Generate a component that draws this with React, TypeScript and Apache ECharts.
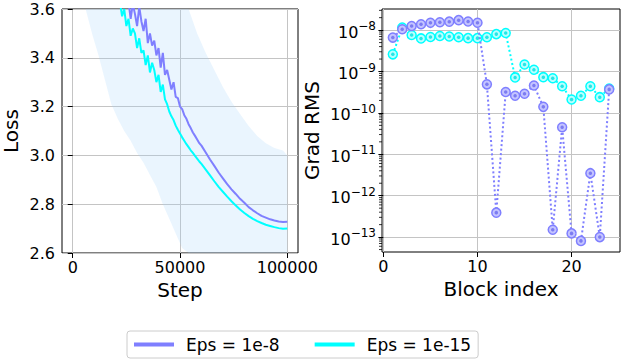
import React, { useEffect, useRef } from 'react';
import * as echarts from 'echarts';

const FONT = 'DejaVu Sans';
const PURPLE = '#7f7fff';
const CYAN = '#00ffff';

// ---- Left panel: training loss ----
const lossSteps = [
  20000, 21000, 22000, 23000, 24000, 25000, 26000, 27000, 28000, 29000,
  30000, 31000, 32000, 33000, 34000, 35000, 36000, 37000, 38000, 39000,
  40000, 41000, 42000, 43000, 44000, 45000, 46000, 47000, 48000, 49000,
  50000, 51000, 52000, 53000, 54000, 55000, 56000, 57000, 58000, 59000,
  60000, 62000, 64000, 66000, 68000, 70000, 72000, 74000, 76000, 78000,
  80000, 82000, 84000, 86000, 88000, 90000, 92000, 94000, 96000, 98000, 100000,
];
const lossEps8 = [
  3.78, 3.73, 3.72, 3.66, 3.67, 3.61, 3.63, 3.56, 3.62, 3.58,
  3.53, 3.61, 3.55, 3.51, 3.56, 3.46, 3.50, 3.45, 3.47, 3.41,
  3.44, 3.36, 3.42, 3.33, 3.35, 3.31, 3.27, 3.30, 3.24, 3.235,
  3.20, 3.19, 3.165, 3.15, 3.128, 3.112, 3.094, 3.08, 3.065, 3.05,
  3.04, 3.012, 2.983, 2.957, 2.93, 2.906, 2.882, 2.861, 2.842, 2.822,
  2.806, 2.788, 2.775, 2.763, 2.752, 2.745, 2.738, 2.733, 2.729, 2.727, 2.728,
];
const lossEps15 = [
  3.70, 3.65, 3.63, 3.57, 3.60, 3.53, 3.56, 3.49, 3.52, 3.50,
  3.44, 3.48, 3.42, 3.43, 3.37, 3.41, 3.34, 3.38, 3.35, 3.30,
  3.33, 3.26, 3.29, 3.23, 3.21, 3.18, 3.16, 3.145, 3.122, 3.105,
  3.09, 3.074, 3.06, 3.046, 3.034, 3.021, 3.01, 2.998, 2.987, 2.975,
  2.965, 2.942, 2.918, 2.894, 2.871, 2.851, 2.831, 2.812, 2.795, 2.778,
  2.764, 2.751, 2.740, 2.731, 2.723, 2.716, 2.711, 2.706, 2.702, 2.699, 2.700,
];
// faint raw-loss envelope
const bandSteps = [
  4000, 6000, 9000, 12000, 15000, 18000, 21000, 24000, 27000, 30000,
  33000, 36000, 39000, 42000, 45000, 48000, 51000, 54000, 58000, 62000,
  66000, 70000, 74000, 78000, 82000, 86000, 90000, 94000, 98000, 100000,
];
const bandLow = [
  3.75, 3.60, 3.50, 3.41, 3.31, 3.21, 3.15, 3.10, 3.06, 3.01,
  2.97, 2.92, 2.87, 2.80, 2.74, 2.68, 2.62, 2.56, 2.50, 2.50,
  2.50, 2.50, 2.50, 2.50, 2.50, 2.50, 2.50, 2.50, 2.50, 2.50,
];
const bandHigh = [
  3.90, 3.90, 3.90, 3.90, 3.90, 3.90, 3.90, 3.90, 3.90, 3.90,
  3.90, 3.90, 3.90, 3.90, 3.90, 3.90, 3.90, 3.62, 3.50, 3.42,
  3.35, 3.28, 3.22, 3.17, 3.12, 3.08, 3.05, 3.03, 3.02, 3.00,
];
const stepTicks = [0, 50000, 100000];

// ---- Right panel: gradient RMS per block ----
const blockIndex = [1, 2, 3, 4, 5, 6, 7, 8, 9, 10, 11, 12, 13, 14, 15, 16, 17, 18, 19, 20, 21, 22, 23, 24];
const gradEps8 = [
  6.6e-9, 1.05e-8, 1.26e-8, 1.39e-8, 1.5e-8, 1.55e-8, 1.6e-8, 1.74e-8, 1.62e-8, 1.5e-8,
  4.9e-10, 3.9e-13, 3.2e-10, 2.6e-10, 2.9e-10, 4.6e-10, 1.4e-10, 1.5e-13, 4.5e-11, 1.23e-13,
  8.1e-14, 3.5e-12, 1.0e-13, 3.7e-10,
];
const gradEps15 = [
  2.6e-9, 1.15e-8, 7.6e-9, 6.3e-9, 6.8e-9, 7.2e-9, 7.0e-9, 6.7e-9, 6.4e-9, 6.4e-9,
  6.7e-9, 8.0e-9, 8.5e-9, 7.2e-10, 1.48e-9, 1.1e-9, 7.3e-10, 6.9e-10, 4.4e-10, 2.1e-10,
  2.6e-10, 4.4e-10, 2.4e-10, 3.9e-10,
];
const blockTicks = [0, 10, 20];
const gradDecades = [-13, -12, -11, -10, -9, -8];

const LOSS_MIN = 2.6;
const LOSS_MAX = 3.6;
const LOG_MIN = -13.36;
const LOG_MAX = -7.49;
const BX_MIN = -0.15;
const BX_MAX = 25.15;

export default function App() {
  const ref = useRef<HTMLDivElement>(null);
  useEffect(() => {
    if (!ref.current) return;
    const chart = echarts.init(ref.current, undefined, { renderer: 'svg' });

    const minorLog: number[][] = [];
    for (let n = -14; n <= -8; n++) {
      for (let k = 2; k <= 9; k++) {
        const v = n + Math.log10(k);
        if (v > LOG_MIN && v < LOG_MAX) minorLog.push([BX_MIN, v]);
      }
    }
    const clampLoss = (v: number) => Math.min(LOSS_MAX, Math.max(LOSS_MIN, v));

    const tickLabel = { fontSize: 16, color: '#000', fontFamily: FONT };
    const nameStyle = { fontSize: 20, color: '#000', fontFamily: FONT };
    const split = { show: true, lineStyle: { color: '#c4c4c4', width: 1 } };
    const tick = (vals: number[]) => ({ show: true, length: 5, inside: false, customValues: vals, lineStyle: { color: '#000', width: 1 } });

    const option: any = {
      animation: false,
      textStyle: { fontFamily: FONT },
      grid: [
        { left: 59, top: 9, width: 239, height: 244, show: true, borderColor: '#000', borderWidth: 1, backgroundColor: 'transparent' },
        { left: 382, top: 9, width: 238, height: 243, show: true, borderColor: '#000', borderWidth: 1, backgroundColor: 'transparent' },
      ],
      xAxis: [
        {
          type: 'value', gridIndex: 0, min: -5000, max: 105000, splitNumber: 2,
          axisLine: { show: false }, axisTick: tick(stepTicks),
          axisLabel: { ...tickLabel, customValues: stepTicks, margin: 6, formatter: (v: number) => String(v) },
          splitLine: split,
          name: 'Step', nameLocation: 'middle', nameGap: 26, nameTextStyle: nameStyle,
        },
        {
          type: 'value', gridIndex: 1, min: BX_MIN, max: BX_MAX, splitNumber: 3,
          axisLine: { show: false }, axisTick: tick(blockTicks),
          axisLabel: { ...tickLabel, customValues: blockTicks, margin: 6, formatter: (v: number) => String(v) },
          splitLine: split,
          name: 'Block index', nameLocation: 'middle', nameGap: 26, nameTextStyle: nameStyle,
        },
      ],
      yAxis: [
        {
          type: 'value', gridIndex: 0, min: LOSS_MIN, max: LOSS_MAX, interval: 0.2,
          axisLine: { show: false }, axisTick: { show: true, length: 5, lineStyle: { color: '#000' } },
          axisLabel: { ...tickLabel, margin: 7, formatter: (v: number) => v.toFixed(1) },
          splitLine: split,
          name: 'Loss', nameLocation: 'middle', nameGap: 41, nameTextStyle: nameStyle,
        },
        {
          type: 'value', gridIndex: 1, min: LOG_MIN, max: LOG_MAX, splitNumber: 6,
          axisLine: { show: false }, axisTick: tick(gradDecades),
          axisLabel: {
            customValues: gradDecades, margin: 6,
            formatter: (v: number) => `{b|10}{s|\u2212${Math.abs(Math.round(v))}}`,
            rich: {
              b: { fontSize: 16, fontFamily: FONT, color: '#000', lineHeight: 20, verticalAlign: 'bottom' },
              s: { fontSize: 12, fontFamily: FONT, color: '#000', lineHeight: 11, verticalAlign: 'top' },
            },
          },
          splitLine: split,
          name: 'Grad RMS', nameLocation: 'middle', nameGap: 60, nameTextStyle: nameStyle,
        },
      ],
      legend: {
        left: 127, top: 331, orient: 'horizontal', padding: [5, 7, 5, 5], itemGap: 33,
        itemWidth: 40, itemHeight: 4, borderColor: '#cccccc', borderWidth: 1, borderRadius: 3,
        selectedMode: false,
        lineStyle: { width: 4, type: 'solid' },
        textStyle: { fontSize: 17, color: '#000', fontFamily: FONT, padding: [0, 0, 0, 7] },
        data: ['Eps = 1e-8', 'Eps = 1e-15'],
      },
      series: [
        {
          name: 'Eps = 1e-8', type: 'line', xAxisIndex: 0, yAxisIndex: 0,
          data: lossSteps.map((s, i) => [s, lossEps8[i]]),
          symbol: 'none', lineStyle: { color: PURPLE, width: 2 }, itemStyle: { color: PURPLE }, z: 3,
        },
        {
          name: 'Eps = 1e-15', type: 'line', xAxisIndex: 0, yAxisIndex: 0,
          data: lossSteps.map((s, i) => [s, lossEps15[i]]),
          symbol: 'none', lineStyle: { color: CYAN, width: 2 }, itemStyle: { color: CYAN }, z: 4,
        },
        {
          name: 'rawBand', type: 'custom', xAxisIndex: 0, yAxisIndex: 0, silent: true, z: 1,
          data: [[bandSteps[0], bandLow[0]]],
          renderItem: (_p: any, api: any) => {
            const pts: number[][] = [];
            for (let i = 0; i < bandSteps.length; i++) pts.push(api.coord([bandSteps[i], clampLoss(bandHigh[i])]));
            for (let i = bandSteps.length - 1; i >= 0; i--) pts.push(api.coord([bandSteps[i], clampLoss(bandLow[i])]));
            return { type: 'polygon', shape: { points: pts }, style: { fill: 'rgba(160,210,250,0.22)' } };
          },
        },
        {
          name: 'Eps = 1e-15', type: 'line', xAxisIndex: 1, yAxisIndex: 1,
          data: blockIndex.map((b, i) => [b, Math.log10(gradEps15[i])]),
          symbol: 'circle', symbolSize: 9, showAllSymbol: true,
          lineStyle: { color: CYAN, width: 2, type: [2, 2.5] },
          itemStyle: { color: '#b8ffff', borderColor: CYAN, borderWidth: 1.5 }, z: 3,
        },
        {
          name: 'dot15', type: 'scatter', xAxisIndex: 1, yAxisIndex: 1,
          data: blockIndex.map((b, i) => [b, Math.log10(gradEps15[i])]),
          symbol: 'circle', symbolSize: 3.5, itemStyle: { color: '#00e0e0' }, z: 4, silent: true,
        },
        {
          name: 'Eps = 1e-8', type: 'line', xAxisIndex: 1, yAxisIndex: 1,
          data: blockIndex.map((b, i) => [b, Math.log10(gradEps8[i])]),
          symbol: 'circle', symbolSize: 9, showAllSymbol: true,
          lineStyle: { color: PURPLE, width: 2, type: [2, 2.5] },
          itemStyle: { color: '#c4c4ff', borderColor: PURPLE, borderWidth: 1.5 }, z: 5,
        },
        {
          name: 'dot8', type: 'scatter', xAxisIndex: 1, yAxisIndex: 1,
          data: blockIndex.map((b, i) => [b, Math.log10(gradEps8[i])]),
          symbol: 'circle', symbolSize: 3.5, itemStyle: { color: '#6a6aee' }, z: 6, silent: true,
        },
        {
          name: 'minorTicks', type: 'custom', xAxisIndex: 1, yAxisIndex: 1, silent: true, clip: false,
          data: minorLog,
          renderItem: (_p: any, api: any) => {
            const pt = api.coord([api.value(0), api.value(1)]);
            return {
              type: 'line',
              shape: { x1: pt[0] - 3, y1: pt[1], x2: pt[0], y2: pt[1] },
              style: { stroke: '#000', lineWidth: 0.8 },
            };
          },
          z: 2,
        },
      ],
    };
    chart.setOption(option);
    return () => chart.dispose();
  }, []);
  return <div ref={ref} style={{ position: 'absolute', left: 0, top: 0, width: 622, height: 362 }} />;
}
